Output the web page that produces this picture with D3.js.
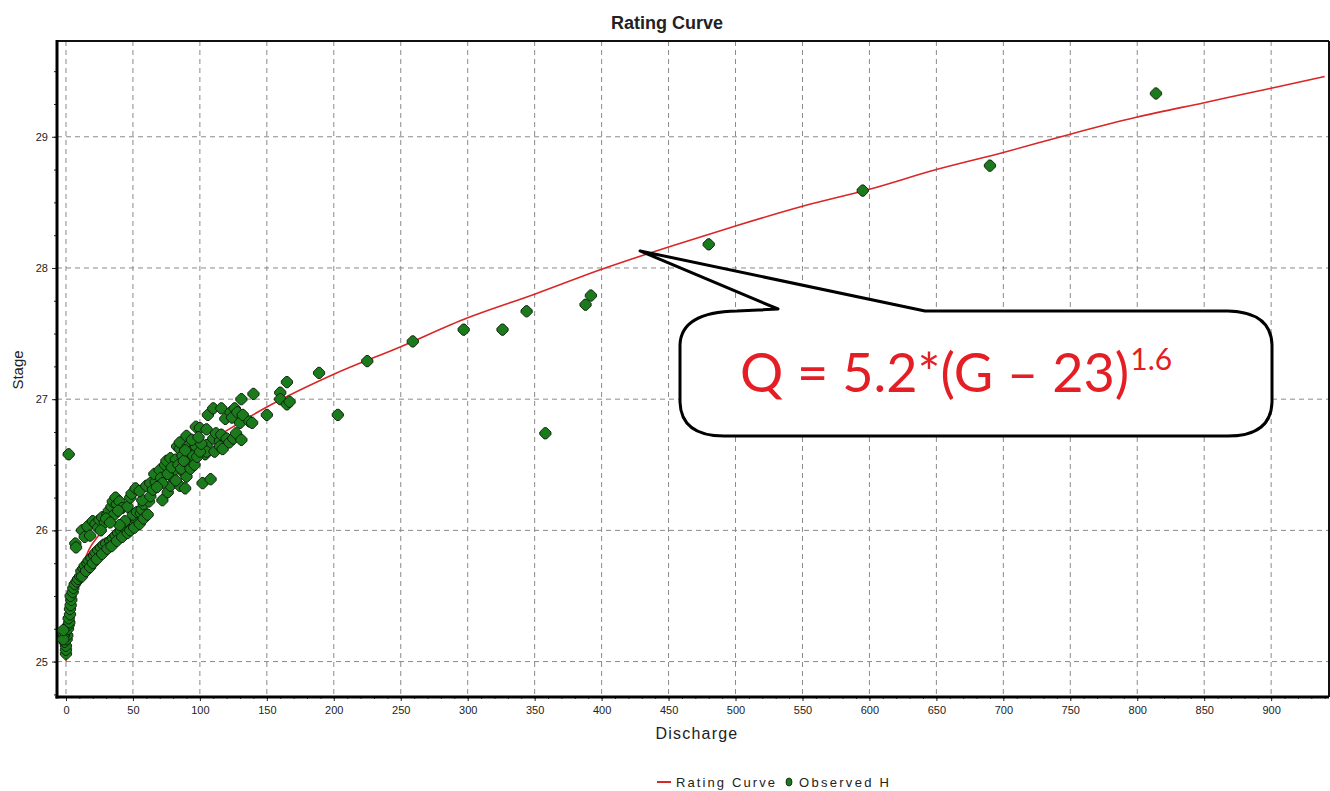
<!DOCTYPE html>
<html>
<head>
<meta charset="utf-8">
<script src="https://cdn.jsdelivr.net/npm/d3@7"></script>
<style>
  html, body { margin: 0; padding: 0; background: #fff; }
  svg { display: block; }
</style>
</head>
<body>
<svg id="chart" width="1330" height="791"></svg>
<script>
// ---------------- DATA ----------------
const chartTitle = "Rating Curve";
const xAxisLabel = "Discharge";
const yAxisLabel = "Stage";
const xTickValues = [0, 50, 100, 150, 200, 250, 300, 350, 400, 450, 500, 550, 600, 650, 700, 750, 800, 850, 900];
const yTickValues = [25, 26, 27, 28, 29];
const legendLabels = ["Rating Curve", "Observed H"];
const equationMain = "Q = 5.2*(G \u2013 23)";
const equationSup = "1.6";

// Rating curve [discharge, stage]
const ratingCurve = [
  [0, 25.0], [0.5, 25.1], [1.5, 25.2], [3, 25.32], [5, 25.45], [7.5, 25.56], [10.5, 25.68],
  [17, 25.85], [25, 25.97], [40, 26.16], [60, 26.34], [80, 26.49], [100, 26.63],
  [120, 26.76], [150, 26.94], [200, 27.19], [250, 27.40], [300, 27.62], [350, 27.80],
  [400, 27.99], [450, 28.16], [500, 28.32], [550, 28.47], [600, 28.60], [650, 28.75],
  [700, 28.88], [750, 29.02], [800, 29.15], [850, 29.26], [900, 29.37], [940, 29.46]
];

// Observed H [discharge, stage]
const observedH = [
  // lowest cluster
  [0, 25.06], [0, 25.09], [0, 25.12], [-1, 25.15], [0.5, 25.17], [1, 25.2], [-1.5, 25.2],
  [0, 25.23], [1.5, 25.25], [2, 25.28], [2.5, 25.3], [2, 25.33], [3, 25.36], [3, 25.4],
  [3.5, 25.43], [4, 25.47], [3.5, 25.5], [5, 25.53], [-2, 25.17], [-2, 25.24],
  // lower branch
  [5.5, 25.56], [6.5, 25.59], [8, 25.61], [9, 25.63], [10.5, 25.65], [11.5, 25.69],
  [13, 25.71], [14, 25.73], [16, 25.75], [17, 25.77], [19, 25.79], [21, 25.81],
  [22, 25.83], [24, 25.85], [26, 25.87], [28, 25.89], [30, 25.9], [33, 25.92],
  [35, 25.94], [37, 25.96], [39, 25.98], [41, 26.0], [43, 26.02], [45, 26.03],
  [47.5, 26.04], [50, 26.06], [52.5, 26.08], [50, 26.12], [53, 26.14], [56, 26.13],
  [56.5, 26.16], [58, 26.2], [62, 26.22], [57, 26.23], [63, 26.26], [72, 26.23],
  [12, 25.65], [15, 25.69], [18, 25.72], [20, 25.75], [23, 25.78], [27, 25.82],
  [31, 25.86], [34, 25.88], [38, 25.92], [42, 25.95], [46, 25.98], [48, 26.0],
  [51, 26.02], [55, 26.05], [58, 26.09], [61, 26.12], [44, 26.07], [40, 26.04],
  // upper branch
  [7, 25.9], [7.5, 25.87], [12, 26.0], [14, 25.95], [16, 26.03], [18, 25.96],
  [20, 26.07], [22, 26.05], [24, 26.02], [25, 26.08], [27, 26.1], [29, 26.06],
  [31, 26.12], [32, 26.15], [34, 26.18], [35, 26.22], [37, 26.25], [38, 26.2],
  [40, 26.22], [36, 26.12], [42, 26.17], [46, 26.18], [48, 26.25], [49, 26.28],
  [52, 26.32], [55, 26.3], [26, 26.0], [30, 26.09], [33, 26.06], [39, 26.15],
  // isolated outlier near zero
  [2, 26.58],
  // middle cluster
  [60, 26.34], [63, 26.36], [65, 26.31], [67, 26.37], [66, 26.43], [70, 26.46],
  [71, 26.4], [74, 26.5], [75, 26.53], [76, 26.29], [78, 26.34], [78, 26.55],
  [80, 26.4], [81, 26.46], [82, 26.54], [83, 26.64], [85, 26.62], [85, 26.67],
  [85, 26.34], [87, 26.57], [88, 26.44], [89, 26.32], [90, 26.41], [90, 26.49],
  [90, 26.72], [91, 26.64], [92, 26.51], [93, 26.6], [95, 26.54], [95, 26.57],
  [97, 26.64], [97, 26.79], [100, 26.78], [102, 26.36], [104, 26.58], [105, 26.65],
  [105, 26.6], [105, 26.77], [106, 26.88], [108, 26.39], [110, 26.7], [110, 26.93],
  [111, 26.6], [112, 26.74], [115, 26.68], [115, 26.64], [116, 26.73], [116, 26.93],
  [117, 26.62], [119, 26.85], [120, 26.7], [122, 26.67], [123, 26.9], [124, 26.86],
  [125, 26.7], [126, 26.93], [127, 26.74], [128, 26.9], [130, 26.82], [131, 26.69],
  [131, 27.0], [132, 26.88], [137, 26.83], [139, 26.82], [140, 27.04], [150, 26.88],
  [160, 27.05], [160, 27.0], [165, 26.96], [167, 26.98], [165, 27.13],
  [76, 26.43], [79, 26.48], [84, 26.5], [86, 26.47], [88, 26.53], [93, 26.47],
  [96, 26.5], [98, 26.56], [100, 26.6], [101, 26.66], [94, 26.69], [89, 26.61],
  [72, 26.36], [68, 26.33], [82, 26.38], [99, 26.71],
  // sparse high-discharge points
  [189, 27.2], [203, 26.88], [225, 27.29], [259, 27.44], [297, 27.53], [326, 27.53],
  [344, 27.67], [358, 26.74], [388, 27.72], [392, 27.79], [480, 28.18], [595, 28.59],
  [690, 28.78], [814, 29.33]
];

// ---------------- CHART ----------------
const svg = d3.select("#chart");
const plot = { left: 57, right: 1329, top: 41, bottom: 697 };

const x = d3.scaleLinear().domain([-6.7, 943.2]).range([plot.left, plot.right]);
const y = d3.scaleLinear().domain([24.73, 29.73]).range([plot.bottom, plot.top]);

const font = "'Liberation Sans', Arial, sans-serif";

// clip
svg.append("defs").append("clipPath").attr("id", "clip")
  .append("rect").attr("x", plot.left).attr("y", plot.top)
  .attr("width", plot.right - plot.left).attr("height", plot.bottom - plot.top);

// grid
const grid = svg.append("g");
grid.selectAll("line.vg").data(xTickValues).join("line")
  .attr("x1", d => x(d)).attr("x2", d => x(d))
  .attr("y1", plot.top).attr("y2", plot.bottom)
  .attr("stroke", "#8a8a8a").attr("stroke-width", 1).attr("stroke-dasharray", "5,4");
grid.selectAll("line.hg").data(yTickValues).join("line")
  .attr("y1", d => y(d)).attr("y2", d => y(d))
  .attr("x1", plot.left).attr("x2", plot.right)
  .attr("stroke", "#8a8a8a").attr("stroke-width", 1).attr("stroke-dasharray", "5,4");

// x axis
const xAxis = d3.axisBottom(x).tickValues(xTickValues).tickSize(4).tickPadding(5).tickFormat(d3.format("d"));
const gx = svg.append("g").attr("transform", `translate(0,${plot.bottom})`).call(xAxis);
gx.select(".domain").remove();
gx.selectAll("text").attr("font-family", font).attr("font-size", 11).attr("fill", "#222");
gx.selectAll("line").attr("stroke", "#222");
// minor x ticks
svg.append("g").attr("transform", `translate(0,${plot.bottom})`)
  .call(d3.axisBottom(x).tickValues(d3.range(-0, 941, 10)).tickSize(2).tickFormat(""))
  .call(g => g.select(".domain").remove())
  .selectAll("line").attr("stroke", "#222");

// y axis
const yAxis = d3.axisLeft(y).tickValues(yTickValues).tickSize(5).tickPadding(4).tickFormat(d3.format("d"));
const gy = svg.append("g").attr("transform", `translate(${plot.left},0)`).call(yAxis);
gy.select(".domain").remove();
gy.selectAll("text").attr("font-family", font).attr("font-size", 11).attr("fill", "#222");
gy.selectAll("line").attr("stroke", "#222");
svg.append("g").attr("transform", `translate(${plot.left},0)`)
  .call(d3.axisLeft(y).tickValues(d3.range(24.75, 29.74, 0.25)).tickSize(3).tickFormat(""))
  .call(g => g.select(".domain").remove())
  .selectAll("line").attr("stroke", "#222");

// frame
svg.append("line").attr("x1", plot.left).attr("x2", plot.right).attr("y1", plot.top).attr("y2", plot.top)
  .attr("stroke", "#111").attr("stroke-width", 2);
svg.append("line").attr("x1", plot.right).attr("x2", plot.right).attr("y1", plot.top).attr("y2", plot.bottom)
  .attr("stroke", "#111").attr("stroke-width", 2);
svg.append("line").attr("x1", plot.left).attr("x2", plot.left).attr("y1", plot.top - 1).attr("y2", plot.bottom + 1.5)
  .attr("stroke", "#000").attr("stroke-width", 3);
svg.append("line").attr("x1", plot.left - 1.5).attr("x2", plot.right).attr("y1", plot.bottom).attr("y2", plot.bottom)
  .attr("stroke", "#000").attr("stroke-width", 3);

// rating curve
const line = d3.line().x(d => x(d[0])).y(d => y(d[1])).curve(d3.curveMonotoneX);
const marks = svg.append("g").attr("clip-path", "url(#clip)");
marks.append("path").datum(ratingCurve).attr("d", line)
  .attr("fill", "none").attr("stroke", "#d92626").attr("stroke-width", 1.6);

// observed points (rounded diamonds)
marks.selectAll("path.pt").data(observedH).join("path")
  .attr("class", "pt")
  .attr("transform", d => `translate(${x(d[0])},${y(d[1])})`)
  .attr("d", "M-1.3,-5.6L1.3,-5.6L5.6,-1.3L5.6,1.3L1.3,5.6L-1.3,5.6L-5.6,1.3L-5.6,-1.3Z")
  .attr("fill", "#1b7a1b").attr("stroke", "#0a1a0a").attr("stroke-width", 0.9);

// callout bubble (tip anchored to the curve)
const tipX = x(428.7), tipY = y(28.13);
const bubble = `M${tipX},${tipY} L778,309 L737,311 Q681,312 680,345 L680,402 Q681,436 724,436 L1228,436 Q1271,436 1272,402 L1272,345 Q1271,312 1228,311 L925,311 Z`;
svg.append("path").attr("d", bubble)
  .attr("fill", "#fff").attr("stroke", "#000").attr("stroke-width", 3).attr("stroke-linejoin", "round");
const eq = svg.append("text").attr("x", 740).attr("y", 392)
  .attr("font-family", "Lato, 'Open Sans', sans-serif").attr("font-size", 54).attr("fill", "#e41e25");
eq.append("tspan").text(equationMain);
eq.append("tspan").attr("font-size", 30).attr("dy", -22).attr("dx", 1).text(equationSup);

// title
svg.append("text").attr("x", 667).attr("y", 29).attr("text-anchor", "middle")
  .attr("font-family", font).attr("font-weight", "bold").attr("font-size", 18).attr("fill", "#222")
  .text(chartTitle);

// axis labels
svg.append("text").attr("x", 697).attr("y", 739).attr("text-anchor", "middle")
  .attr("font-family", font).attr("font-size", 16).attr("letter-spacing", 1.2).attr("fill", "#222")
  .text(xAxisLabel);
svg.append("text").attr("transform", "translate(23,370) rotate(-90)").attr("text-anchor", "middle")
  .attr("font-family", font).attr("font-size", 15).attr("fill", "#222")
  .text(yAxisLabel);

// legend
const lg = svg.append("g").attr("font-family", font).attr("font-size", 13).attr("fill", "#222");
lg.append("line").attr("x1", 657).attr("x2", 671).attr("y1", 782).attr("y2", 782)
  .attr("stroke", "#d92626").attr("stroke-width", 2);
lg.append("text").attr("x", 676).attr("y", 787).attr("textLength", 99).attr("lengthAdjust", "spacing").text(legendLabels[0]);
lg.append("ellipse").attr("cx", 789).attr("cy", 782).attr("rx", 3).attr("ry", 4)
  .attr("fill", "#1b7a1b").attr("stroke", "#0a1a0a").attr("stroke-width", 0.8);
lg.append("text").attr("x", 799).attr("y", 787).attr("textLength", 90).attr("lengthAdjust", "spacing").text(legendLabels[1]);
</script>
</body>
</html>
